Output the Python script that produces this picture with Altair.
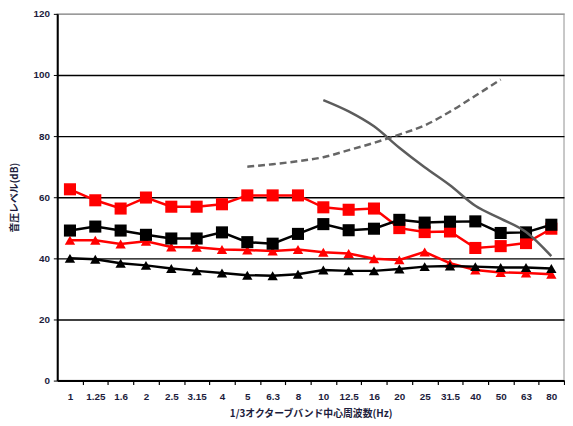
import altair as alt
import pandas as pd

freqs = ["1", "1.25", "1.6", "2", "2.5", "3.15", "4", "5", "6.3", "8",
         "10", "12.5", "16", "20", "25", "31.5", "40", "50", "63", "80"]

red_sq = [62.6, 59.0, 56.3, 59.9, 56.9, 56.9, 57.7, 60.6, 60.6, 60.6,
          56.7, 55.9, 56.3, 49.9, 48.6, 48.8, 43.4, 44.0, 45.0, 49.7]
blk_sq = [49.1, 50.4, 49.1, 47.7, 46.5, 46.5, 48.5, 45.3, 44.8, 48.0,
          51.2, 49.2, 49.7, 52.6, 51.7, 52.0, 52.1, 48.3, 48.5, 51.0]
red_tri = [45.9, 45.9, 44.7, 45.6, 43.7, 43.6, 42.9, 42.7, 42.4, 42.9,
           42.0, 41.6, 39.9, 39.5, 42.1, 38.4, 36.2, 35.4, 35.2, 34.8]
blk_tri = [40.0, 39.7, 38.4, 37.7, 36.7, 35.9, 35.2, 34.5, 34.3, 34.8,
           36.2, 35.9, 35.9, 36.5, 37.3, 37.5, 37.3, 37.0, 37.0, 36.7]
grey_solid = [None] * 10 + [91.8, 88.1, 83.2, 76.2, 69.8, 63.9, 57.2, 53.0, 48.6, 40.7]
grey_dash = [None] * 7 + [70.0, 70.8, 71.8, 73.1, 75.4, 77.8, 80.5, 83.5, 88.0, 93.2, 98.5, None, None]

W, H = 514, 372
STEP = W / len(freqs)


def frame(vals):
    return pd.DataFrame({"freq": freqs, "v": vals}).dropna()


x_enc = alt.X("freq:N", sort=freqs, title="1/3オクターブバンド中心周波数(Hz)",
              scale=alt.Scale(type="point", padding=0.5),
              axis=alt.Axis(labelAngle=0, grid=False, tickOffset=STEP / 2,
                            labelOffset=-STEP / 2,
                            tickSize=4, domainColor="black", domainWidth=2,
                            tickColor="black", tickWidth=1.2,
                            labelPadding=7, titlePadding=7))
y_enc = alt.Y("v:Q", title="音圧レベル(dB)",
              scale=alt.Scale(domain=[0, 120], nice=False),
              axis=alt.Axis(values=[0, 20, 40, 60, 80, 100, 120], grid=True,
                            gridColor={"condition": {"test": "datum.value == 120", "value": "#9a9a9a"},
                                       "value": "black"},
                            gridWidth=1.4, tickSize=4, tickColor="black",
                            domainColor="black", domainWidth=2,
                            labelPadding=4, titleAngle=-90, titleX=-43, titleY=H / 2,
                            titleAlign="center", titleBaseline="middle"))


def series(vals, color, shape, size):
    base = alt.Chart(frame(vals)).encode(x=x_enc, y=y_enc)
    return base.mark_line(color=color, strokeWidth=2.5) + \
        base.mark_point(shape=shape, size=size, filled=True, color=color, opacity=1)


grey1 = alt.Chart(frame(grey_solid)).mark_line(
    color="#5c5c5c", strokeWidth=2.5, interpolate="monotone").encode(x=x_enc, y=y_enc)
grey2 = alt.Chart(frame(grey_dash)).mark_line(
    color="#666666", strokeWidth=2.5, strokeDash=[7, 4], interpolate="monotone").encode(x=x_enc, y=y_enc)

chart = alt.layer(
    series(red_tri, "#ff0000", "triangle-up", 110),
    series(blk_tri, "black", "triangle-up", 110),
    series(red_sq, "#ff0000", "square", 150),
    series(blk_sq, "black", "square", 150),
    grey1, grey2,
).properties(
    width=W, height=H,
    autosize=alt.AutoSizeParams(type="none"),
    padding={"left": 50, "top": 3, "right": 1, "bottom": 36},
).configure_view(
    stroke="#b5b5b5", strokeWidth=1.5
).configure_axis(
    labelFont="Liberation Sans", labelFontWeight="bold", labelFontSize=10,
    labelColor="#1c1c3c",
    titleFont="Noto Sans CJK JP", titleFontWeight="bold", titleFontSize=10,
    titleColor="#1c1c3c",
)

chart.save("out.html", embed_options={"renderer": "svg", "actions": False})
